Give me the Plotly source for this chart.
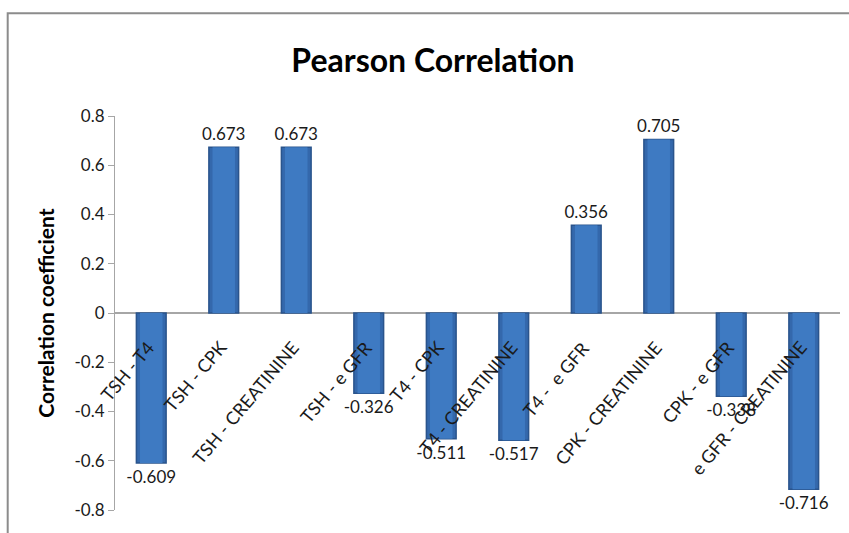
import plotly.graph_objects as go

# Pairwise Pearson correlation coefficients
pairs = [
    "TSH - T4", "TSH - CPK", "TSH - CREATININE", "TSH - e GFR", "T4 - CPK",
    "T4 - CREATININE", "T4 -  e GFR", "CPK - CREATININE", "CPK - e GFR",
    "e GFR - CREATININE",
]
coefficients = [-0.609, 0.673, 0.673, -0.326, -0.511, -0.517, 0.356, 0.705, -0.338, -0.716]

y_ticks = [0.8, 0.6, 0.4, 0.2, 0, -0.2, -0.4, -0.6, -0.8]
y_tick_labels = ["0.8", "0.6", "0.4", "0.2", "0", "-0.2", "-0.4", "-0.6", "-0.8"]

FONT = "Lato, Open Sans, sans-serif"

fig = go.Figure()

# Main bars with darker rim
fig.add_trace(go.Bar(
    x=pairs,
    y=coefficients,
    width=0.41,
    marker=dict(color="#3468AC", line=dict(color="#2A548C", width=1.5)),
    text=[f"{v:.3f}" for v in coefficients],
    textposition="outside",
    constraintext="none",
    textfont=dict(family=FONT, size=17, color="#1a1a1a"),
    cliponaxis=False,
    hoverinfo="x+y",
))

# Lighter face inside each bar for a bevelled look
fig.add_trace(go.Bar(
    x=pairs,
    y=coefficients,
    width=0.31,
    marker=dict(color="#3E7AC2", line=dict(width=0)),
    hoverinfo="skip",
))

# Category labels sit along the zero line, slanted like the spreadsheet axis
for name in pairs:
    fig.add_annotation(
        x=name, y=0, xref="x", yref="y",
        text=name, textangle=-50, showarrow=False,
        xanchor="right", yanchor="top", xshift=10, yshift=-21,
        font=dict(family=FONT, size=18, color="#1a1a1a"),
    )

# Y axis title
fig.add_annotation(
    x=-0.097, y=0.5, xref="paper", yref="paper",
    text="<b>Correlation coefficient</b>", textangle=-90, showarrow=False,
    xanchor="center", yanchor="middle",
    font=dict(family=FONT, size=21, color="#000000"),
)

# Outer chart frame
fig.add_shape(
    type="rect", xref="paper", yref="paper",
    x0=-0.148, x1=1.2, y0=-0.3, y1=1.261,
    line=dict(color="#8c8c8c", width=2), fillcolor="rgba(0,0,0,0)", layer="below",
)

fig.update_layout(
    width=849, height=533,
    margin=dict(l=115, r=9, t=116, b=23),
    paper_bgcolor="white", plot_bgcolor="white",
    showlegend=False,
    barmode="overlay",
    title=dict(
        text="<b>Pearson Correlation</b>",
        x=0.51, xanchor="center", y=0.885, yanchor="middle",
        font=dict(family=FONT, size=32, color="#000000"),
    ),
    xaxis=dict(
        showticklabels=False, showgrid=False, zeroline=False,
        showline=False, ticks="", range=[-0.5, 9.5],
    ),
    yaxis=dict(
        range=[-0.8, 0.8], tickvals=y_ticks, ticktext=y_tick_labels,
        showgrid=False, zeroline=True, zerolinecolor="#a6a6a6", zerolinewidth=2,
        showline=True, linecolor="#a6a6a6", linewidth=1,
        ticks="outside", ticklen=6, tickcolor="#a6a6a6",
        tickfont=dict(family=FONT, size=17, color="#1a1a1a"),
    ),
)

fig.write_html("out.html")
